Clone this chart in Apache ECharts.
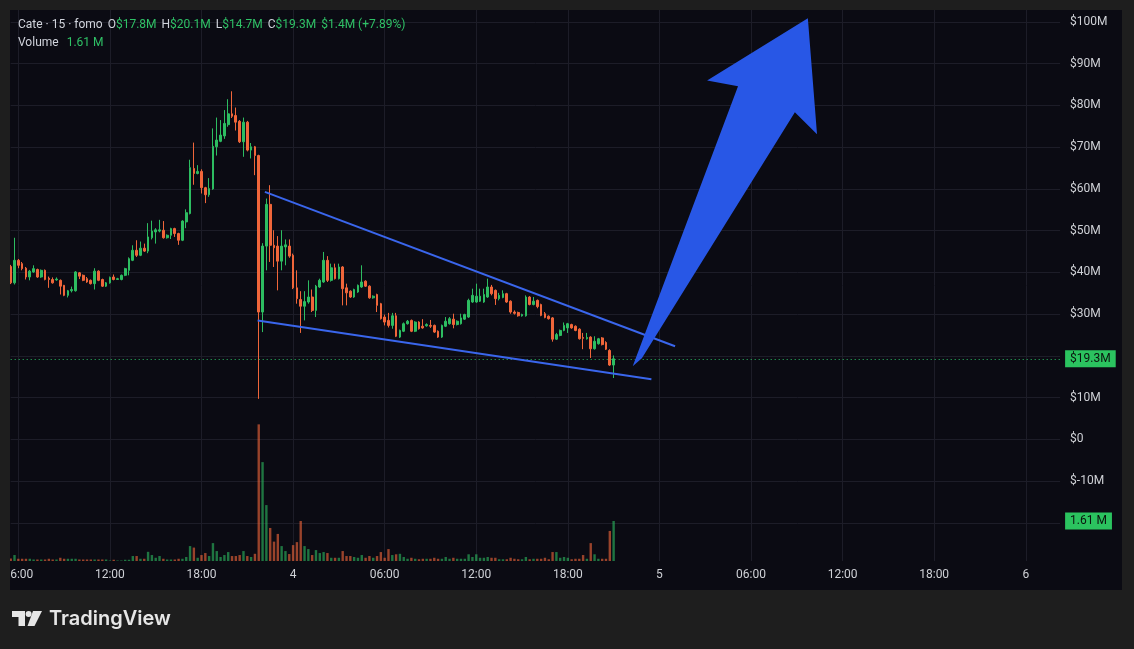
<!DOCTYPE html>
<html><head><meta charset="utf-8">
<script src="https://cdn.jsdelivr.net/npm/echarts@6/dist/echarts.min.js"></script>
<style>html,body{margin:0;padding:0;background:#1e1e1e;}#c{width:1134px;height:649px;}</style>
</head><body><div id="c"></div>
<script>
// ---- data (15-minute candles, values in $M) ----
const openP = [41.4,37.5,42.9,42.1,41.0,38.9,40.1,40.7,38.9,40.5,38.6,38.3,38.2,38.1,36.9,34.5,35.6,35.6,39.9,39.3,
38.5,38.1,37.3,40.3,38.3,36.7,37.5,38.9,38.3,38.3,39.3,40.5,42.9,45.3,44.1,45.8,45.1,48.3,49.7,49.9,
50.1,48.3,48.9,50.5,49.3,47.7,52.1,54.1,64.9,63.7,64.2,60.3,58.6,60.0,70.1,71.4,72.7,75.4,78.0,77.6,
76.2,71.3,76.0,69.3,70.1,68.0,30.5,46.3,56.3,46.5,46.3,42.7,46.1,46.3,44.1,36.3,33.5,31.9,32.9,34.1,
30.9,36.5,37.7,42.9,38.1,41.1,38.5,41.3,36.3,35.5,34.1,35.3,36.5,37.9,36.7,33.9,34.7,32.5,29.3,28.5,
27.3,29.6,24.5,25.9,27.7,28.5,25.9,28.1,27.1,27.2,27.3,27.3,25.9,24.5,27.1,27.7,28.8,27.5,27.7,28.8,
29.3,32.9,32.9,33.1,32.9,34.1,36.5,35.7,33.7,34.0,34.9,33.1,30.5,30.4,29.6,29.6,34.1,32.3,33.3,32.3,
30.1,29.5,29.1,24.0,24.9,26.1,26.7,27.5,27.1,26.4,24.4,24.1,24.5,21.7,22.9,24.3,23.2,21.3,17.8];
const highP = [41.8,48.3,43.2,42.5,41.3,40.6,41.7,40.9,40.7,40.7,39.0,38.8,38.8,38.3,37.0,35.8,36.6,40.3,40.1,39.5,
38.9,38.3,41.0,40.5,38.5,37.7,39.0,39.5,38.7,39.5,41.1,43.6,46.5,47.7,47.4,46.9,51.8,52.4,50.6,52.6,
52.3,49.1,50.7,50.7,49.5,52.5,55.1,67.0,71.1,65.7,64.7,60.5,62.6,74.5,77.1,76.5,78.9,81.5,83.4,79.5,
76.5,77.1,76.3,71.0,70.3,68.2,47.0,57.7,60.9,50.1,48.7,50.1,47.9,47.9,44.5,40.5,35.5,35.5,38.1,35.9,
37.0,38.5,44.9,43.9,42.1,42.1,42.1,41.5,37.3,35.7,36.1,37.1,41.7,38.1,36.9,34.5,34.9,32.7,29.9,30.3,
30.3,30.3,26.3,28.0,28.6,28.7,28.3,28.3,28.8,27.8,28.6,27.5,26.1,27.5,29.3,29.3,30.1,28.5,30.1,30.1,
33.7,36.1,37.3,36.1,36.1,38.5,37.0,35.9,35.1,35.7,35.1,33.3,30.9,30.6,30.1,34.5,34.3,34.1,33.5,32.5,
30.5,29.7,29.3,25.5,26.3,28.0,27.9,27.7,27.3,26.6,25.5,25.5,24.7,24.7,24.3,24.5,23.5,21.6,20.1];
const lowP = [37.2,37.1,41.0,40.5,38.3,38.1,39.9,38.7,38.7,38.1,36.3,37.3,38.0,34.7,34.3,34.0,35.2,35.4,38.4,37.9,
37.5,37.1,35.9,37.9,36.5,36.5,37.3,38.1,38.2,38.1,39.1,39.3,42.7,43.7,43.9,44.9,44.6,47.9,46.9,49.6,
48.1,48.1,48.0,48.5,46.6,47.5,50.6,53.9,61.0,63.5,58.9,56.6,58.1,59.8,68.0,71.2,72.0,74.9,77.0,74.0,
71.0,67.7,69.0,67.3,63.3,9.7,25.7,40.5,42.5,41.3,35.7,40.5,41.7,43.5,36.0,32.5,25.5,28.5,32.5,30.5,
29.3,36.3,37.5,37.7,37.8,38.3,38.3,32.1,32.1,33.9,33.9,35.1,36.3,36.5,33.7,33.7,30.5,28.7,27.3,26.8,
26.5,24.5,24.3,25.7,27.5,25.7,25.7,26.3,26.5,27.0,26.7,25.5,24.3,24.3,26.9,27.5,26.6,27.3,27.5,28.6,
29.1,32.7,32.7,32.9,32.7,33.9,34.5,32.2,33.3,33.8,32.7,30.1,29.9,29.4,29.4,29.4,32.1,32.1,31.4,29.5,
29.0,28.7,23.4,23.8,24.7,25.9,25.5,26.5,25.9,23.9,21.6,23.9,19.5,21.5,22.7,22.5,21.4,17.6,14.7];
const closeP = [37.5,42.9,41.7,40.9,38.9,40.3,40.9,38.9,40.5,38.3,38.3,37.5,38.4,36.7,34.5,35.6,35.9,40.1,39.1,38.1,
37.7,37.3,40.3,38.1,36.7,37.5,38.8,38.3,38.5,39.3,40.9,43.3,45.3,44.1,45.8,45.1,48.5,49.9,50.2,50.2,
48.3,48.9,50.5,49.3,47.7,52.3,54.3,65.1,63.7,64.2,60.3,58.6,60.1,70.2,71.7,72.9,75.7,78.0,77.4,76.0,
71.3,76.0,69.3,70.1,68.0,30.5,46.3,56.3,46.5,45.9,42.7,46.3,46.6,43.9,36.3,33.7,31.9,33.0,34.1,30.9,
36.7,38.1,42.9,38.1,41.1,38.5,41.3,36.1,35.1,34.1,35.9,36.9,37.7,36.7,33.9,34.3,32.1,28.9,28.1,27.3,
29.6,24.7,26.1,27.7,28.3,25.9,28.1,26.5,26.7,27.5,27.1,25.7,24.5,27.3,28.3,28.9,27.5,28.3,29.1,29.9,
33.3,34.5,34.3,34.3,34.7,36.5,34.9,33.7,34.5,34.9,32.9,30.5,30.2,29.6,29.9,34.1,32.3,33.1,31.8,29.7,
29.2,28.9,24.0,25.1,26.1,27.3,27.7,26.7,26.1,24.1,24.2,24.4,21.7,23.5,24.1,22.7,21.6,17.8,19.3];
const volume = [0.10,0.24,0.09,0.09,0.09,0.09,0.06,0.06,0.06,0.06,
0.09,0.06,0.06,0.13,0.09,0.09,0.09,0.09,0.06,0.06,
0.06,0.06,0.06,0.06,0.06,0.06,0.02,0.05,0.02,0.02,
0.05,0.05,0.20,0.20,0.09,0.09,0.37,0.24,0.13,0.20,
0.09,0.06,0.06,0.06,0.09,0.09,0.16,0.60,0.54,0.13,
0.24,0.32,0.20,0.72,0.40,0.16,0.24,0.36,0.20,0.20,
0.24,0.40,0.20,0.16,0.29,5.50,3.98,2.25,1.33,0.78,
1.09,0.60,0.40,0.28,0.64,0.76,1.61,0.60,0.48,0.24,
0.44,0.32,0.36,0.32,0.13,0.13,0.13,0.40,0.20,0.20,
0.16,0.13,0.24,0.13,0.20,0.13,0.20,0.36,0.13,0.48,
0.24,0.27,0.29,0.16,0.09,0.13,0.09,0.07,0.09,0.09,
0.09,0.13,0.09,0.09,0.16,0.09,0.13,0.09,0.09,0.09,
0.27,0.16,0.27,0.13,0.13,0.16,0.13,0.13,0.07,0.07,
0.07,0.13,0.09,0.07,0.07,0.16,0.07,0.09,0.09,0.09,
0.13,0.07,0.36,0.36,0.13,0.16,0.13,0.07,0.09,0.09,
0.24,0.09,0.72,0.27,0.09,0.09,0.09,1.21,1.61];

// time slots: first candle is day 3 05:30, 15-minute slots
const startDay = 3, startMinute = 5 * 60 + 30, slotMinutes = 15, slotCount = 276;
// price axis
const priceMin = -20, priceMax = 100, priceStep = 10, hiddenPriceTicks = [20, -20];
// header
const headerTitle = 'Cate · 15 · fomo';
const headerChange = '$1.4M (+7.89%)';
// drawing annotations in (slot index, $M)
const upperLine = [[66.6, 59.3], [174.1, 22.3]];
const lowerLine = [[64.7, 28.5], [167.9, 14.4]];
const arrowX = [163.0, 190.6, 182.5, 208.9, 211.3, 205.5, 165.4];
const arrowY = [17.5, 84.6, 86.0, 100.9, 73.1, 78.4, 19.4];

// ---- styles ----
const FONT = 'Roboto, "Liberation Sans", Arial, sans-serif';
const UP = '#2dbd61', DOWN = '#f0663a';
const UPV = 'rgba(45,189,97,0.6)', DOWNV = 'rgba(240,102,58,0.62)';
const GRIDC = '#1d1d28', TXT = '#cfd1d6', BLUE = '#3a66ec', ARROW = '#2857e6';
const PANEL = '#0b0b13', FRAME = '#1e1e1e';
const L = 10.7, R = 1134 - 1060.1;

const categories = [];
for (let i = 0; i < slotCount; i++) {
  const t = startMinute + i * slotMinutes;
  const d = startDay + Math.floor(t / 1440), m = t % 1440;
  const hh = String(Math.floor(m / 60)).padStart(2, '0'), mm = String(m % 60).padStart(2, '0');
  categories.push(d + ' ' + hh + ':' + mm);
}
const catLabel = c => { const [d, hm] = c.split(' '); return hm === '00:00' ? d : hm; };
const isTick = c => { const hm = c.split(' ')[1]; const [h, m] = hm.split(':').map(Number); return m === 0 && h % 6 === 0; };

const candles = openP.map((o, i) => [o, closeP[i], lowP[i], highP[i]]);
const vols = volume.map((v, i) => ({ value: v, itemStyle: { color: closeP[i] >= openP[i] ? UPV : DOWNV } }));
const n = openP.length;
const fmt = v => '$' + v.toFixed(1) + 'M';
const lastVol = volume[n - 1];

const volPxPerM = 1 / 0.04025;
const fullTop = 10, fullBottomY = 561;
const volMax = (fullBottomY - fullTop) / volPxPerM;

const chart = echarts.init(document.getElementById('c'), null, { renderer: 'canvas' });

const line1 = [
  [[headerTitle, 't']],
  [['O', 't'], [fmt(openP[n - 1]), 'v']],
  [['H', 't'], [fmt(highP[n - 1]), 'v']],
  [['L', 't'], [fmt(lowP[n - 1]), 'v']],
  [['C', 't'], [fmt(closeP[n - 1]), 'v']],
  [[headerChange, 'v']]
];
const line2 = [[['Volume', 't']], [[lastVol.toFixed(2) + ' M', 'v']]];
const richLine = segs => segs.map(s => s.map(p => '{' + p[1] + '|' + p[0] + '}').join('')).join('{g| }');
const rich = {
  t: { fill: '#d1d4dc', fontSize: 12, fontFamily: FONT },
  v: { fill: '#2fc166', fontSize: 12, fontFamily: FONT },
  g: { width: 5, fontSize: 12 }
};
const headerGraphics = [
  { type: 'text', left: 18, top: 19, z: 120, style: { text: richLine(line1), rich } },
  { type: 'text', left: 18, top: 37, z: 120, style: { text: richLine(line2), rich: Object.assign({}, rich, { g: { width: 8, fontSize: 12 } }) } }
];

const boxLabel = {
  position: 'end', distance: 5, backgroundColor: '#2bc35f',
  color: '#0c130e', fontSize: 12, fontFamily: FONT, padding: [3, 5, 2, 5]
};

const option = {
  animation: false,
  backgroundColor: PANEL,
  grid: [
    { left: L, right: R, top: 22, bottom: 649 - 522.8 },
    { left: L, right: R, top: fullTop, bottom: 649 - fullBottomY }
  ],
  xAxis: [
    { type: 'category', gridIndex: 0, data: categories, boundaryGap: false, show: false },
    { type: 'category', gridIndex: 1, data: categories, boundaryGap: false,
      axisLine: { show: false }, axisTick: { show: false },
      axisLabel: { interval: (i, v) => isTick(v), formatter: v => catLabel(v), color: TXT, fontSize: 12, fontFamily: FONT, margin: 8 },
      splitLine: { show: true, interval: (i, v) => isTick(v), lineStyle: { color: GRIDC, width: 1 } } },
    { type: 'value', gridIndex: 0, min: 0, max: slotCount - 1, show: false }
  ],
  yAxis: [
    { type: 'value', gridIndex: 0, position: 'right', min: priceMin, max: priceMax, interval: priceStep,
      axisLine: { show: false }, axisTick: { show: false },
      axisLabel: { margin: 10, color: TXT, fontSize: 12, fontFamily: FONT,
        formatter: v => hiddenPriceTicks.includes(v) ? '' : '$' + v + (v === 0 ? '' : 'M') },
      splitLine: { lineStyle: { color: GRIDC, width: 1 } } },
    { type: 'value', gridIndex: 1, min: 0, max: volMax, show: false, splitLine: { show: false } }
  ],
  series: [
    { type: 'bar', xAxisIndex: 1, yAxisIndex: 1, data: vols, barWidth: 2.4, z: 1,
      markLine: { symbol: 'none', silent: true, animation: false,
        lineStyle: { color: 'rgba(0,0,0,0)', width: 0 },
        data: [{ yAxis: lastVol }],
        label: Object.assign({ formatter: lastVol.toFixed(2) + ' M' }, boxLabel) } },
    { type: 'candlestick', xAxisIndex: 0, yAxisIndex: 0, data: candles, barWidth: 2.2, z: 3,
      itemStyle: { color: UP, color0: DOWN, borderColor: UP, borderColor0: DOWN, borderWidth: 1 },
      markLine: { symbol: 'none', silent: true, animation: false,
        lineStyle: { color: '#2bbf63', type: [1, 3], width: 1 },
        data: [{ yAxis: closeP[n - 1] }],
        label: Object.assign({ formatter: fmt(closeP[n - 1]) }, boxLabel) } },
    { type: 'line', xAxisIndex: 2, yAxisIndex: 0, data: upperLine, symbol: 'none', z: 5,
      lineStyle: { color: BLUE, width: 2 } },
    { type: 'line', xAxisIndex: 2, yAxisIndex: 0, data: lowerLine, symbol: 'none', z: 5,
      lineStyle: { color: BLUE, width: 2 } },
    { type: 'custom', xAxisIndex: 2, yAxisIndex: 0, data: [[arrowX[0], arrowY[0]]], z: 6, clip: false,
      renderItem: (params, api) => ({
        type: 'polygon',
        shape: { points: arrowX.map((x, i) => api.coord([x, arrowY[i]])) },
        style: { fill: ARROW }
      }) }
  ],
  graphic: [
    { type: 'rect', left: 0, top: 0, z: 100, shape: { width: 10, height: 649 }, style: { fill: FRAME } },
    { type: 'rect', left: 0, top: 0, z: 100, shape: { width: 1134, height: 10 }, style: { fill: FRAME } },
    { type: 'rect', left: 1122, top: 0, z: 100, shape: { width: 12, height: 649 }, style: { fill: FRAME } },
    { type: 'rect', left: 0, top: 590, z: 100, shape: { width: 1134, height: 59 }, style: { fill: FRAME } },
    // TradingView logo
    { type: 'group', z: 110, children: [
      { type: 'polygon', z: 110, shape: { points: [[12, 611], [25, 611], [25, 626], [18.5, 626], [18.5, 617], [12, 617]] }, style: { fill: '#e6e6e6' } },
      { type: 'circle', z: 110, shape: { cx: 28.6, cy: 614, r: 3 }, style: { fill: '#e6e6e6' } },
      { type: 'polygon', z: 110, shape: { points: [[33, 611], [42, 611], [34.5, 626], [27.5, 626]] }, style: { fill: '#e6e6e6' } },
      { type: 'text', z: 110, left: 49, top: 609, style: { text: 'TradingView', fill: '#e6e6e6', fontSize: 20, fontWeight: 600, fontFamily: 'Inter, Roboto, sans-serif' } }
    ] }
  ].concat(headerGraphics)
};
chart.setOption(option);
</script>
</body></html>
